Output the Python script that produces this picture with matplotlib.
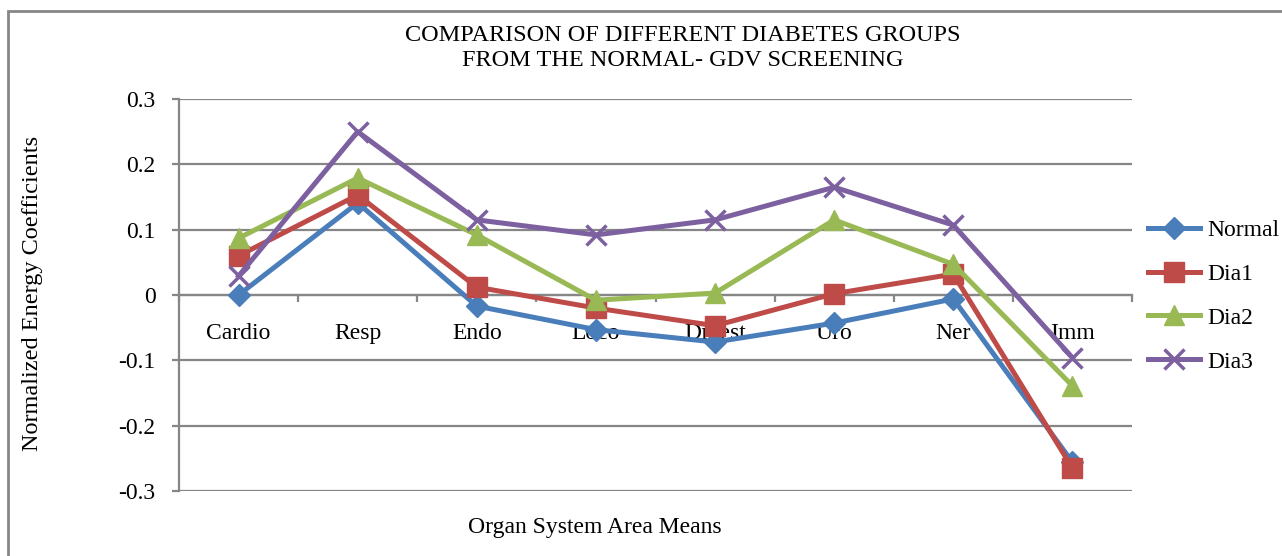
import numpy as np
import matplotlib.pyplot as plt
from matplotlib.patches import Rectangle

plt.rcParams['font.family'] = ['Liberation Serif', 'DejaVu Serif']

categories = ["Cardio", "Resp", "Endo", "Loco", "Digest", "Uro", "Ner", "Imm"]
normal = [0.000, 0.141, -0.017, -0.053, -0.072, -0.043, -0.006, -0.256]
dia1 = [0.060, 0.153, 0.012, -0.020, -0.047, 0.002, 0.032, -0.265]
dia2 = [0.087, 0.179, 0.092, -0.008, 0.003, 0.115, 0.047, -0.139]
dia3 = [0.029, 0.250, 0.115, 0.092, 0.115, 0.165, 0.107, -0.096]
yticks = [-0.3, -0.2, -0.1, 0, 0.1, 0.2, 0.3]
ytick_labels = ["-0.3", "-0.2", "-0.1", "0", "0.1", "0.2", "0.3"]

series = [
    ("Normal", normal, "#4A7EBB", "D", 11),
    ("Dia1", dia1, "#BE4B48", "s", 14),
    ("Dia2", dia2, "#98B954", "^", 15),
    ("Dia3", dia3, "#7D60A0", "x", 14),
]

fig = plt.figure(figsize=(12.82, 5.56), dpi=100)
fig.patches.append(Rectangle((8 / 1282, -0.05), 1.2, 1 - 11 / 556 + 0.05,
                             transform=fig.transFigure, fill=False,
                             edgecolor="#868686", linewidth=2))
ax = fig.add_axes([179 / 1282, 1 - 491 / 556, (1132 - 179) / 1282, (491 - 99) / 556])

x = np.arange(len(categories))
for name, vals, col, mk, ms in series:
    ax.plot(x, vals, color=col, linewidth=3.6, marker=mk, markersize=ms,
            markeredgewidth=2.5 if mk == "x" else 1, markeredgecolor=col,
            label=name, zorder=3)

ax.set_xlim(-0.5, len(categories) - 0.5)
ax.set_ylim(-0.3, 0.3)
ax.set_yticks(yticks)
ax.set_yticklabels(ytick_labels)
ax.yaxis.grid(True, color="#868686", linewidth=1.6)
ax.set_axisbelow(True)

for s in ["top", "right"]:
    ax.spines[s].set_visible(False)
ax.spines["left"].set_color("#868686")
ax.spines["left"].set_linewidth(1.6)
ax.spines["bottom"].set_position(("data", 0))
ax.spines["bottom"].set_color("#868686")
ax.spines["bottom"].set_linewidth(1.6)

ax.set_xticks(x)
ax.set_xticklabels(categories)
ax.set_xticks(np.arange(len(categories) + 1) - 0.5, minor=True)
ax.tick_params(axis="x", which="major", length=0, pad=20, labelsize=17)
ax.tick_params(axis="x", which="minor", length=5, width=1.6, color="#868686", direction="out")
ax.tick_params(axis="y", length=5, width=1.6, color="#868686", labelsize=17, pad=12)

fig.text(683 / 1282, 1 - 48 / 556,
         "COMPARISON OF DIFFERENT DIABETES GROUPS\nFROM THE NORMAL- GDV SCREENING",
         ha="center", va="center", fontsize=17.5, linespacing=1.3)
fig.text(33 / 1282, 1 - 293 / 556, "Normalized Energy Coefficients",
         rotation=90, ha="center", va="center", fontsize=17.5)
fig.text(595 / 1282, 1 - 527 / 556, "Organ System Area Means",
         ha="center", va="center", fontsize=17)

fig.legend(loc="center left", bbox_to_anchor=(1148 / 1282, 1 - 296 / 556),
           frameon=False, fontsize=17, handlelength=2.2, handletextpad=0.3,
           labelspacing=0.95, borderaxespad=0, borderpad=0)

fig.savefig("out.png", dpi=100)
